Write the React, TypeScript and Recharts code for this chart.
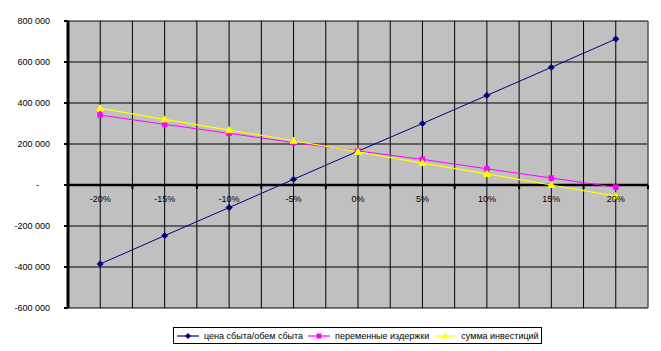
import React from 'react';
import {
  ComposedChart,
  Line,
  XAxis,
  YAxis,
  CartesianGrid,
  ReferenceLine,
  ReferenceDot,
  Legend,
  LabelList,
} from 'recharts';

const categories = ['-20%', '-15%', '-10%', '-5%', '0%', '5%', '10%', '15%', '20%'];
const changePct = [-20, -15, -10, -5, 0, 5, 10, 15, 20];
const priceVolume = [-385000, -247000, -110000, 28000, 165000, 300000, 437000, 574000, 712000];
const variableCosts = [341000, 296000, 252000, 207000, 166000, 125000, 79000, 34000, -11000];
const investment = [374000, 320000, 268000, 216000, 162000, 107000, 54000, 0, -54000];
const yTicks = [-600000, -400000, -200000, 0, 200000, 400000, 600000, 800000];
const xGridTicks = [-22.5, -20, -17.5, -15, -12.5, -10, -7.5, -5, -2.5, 0, 2.5, 5, 7.5, 10, 12.5, 15, 17.5, 20, 22.5];
const categoryBoundaries = [-22.5, -17.5, -12.5, -7.5, -2.5, 2.5, 7.5, 12.5, 17.5, 22.5];
const seriesNames = ['цена сбыта/обем сбыта', 'переменные издержки', 'сумма инвестиций'];

const data = changePct.map((x, i) => ({
  x,
  label: categories[i],
  price: priceVolume[i],
  costs: variableCosts[i],
  invest: investment[i],
  base: 0,
}));

const FONT = "Arial, 'Liberation Sans', sans-serif";

const fmt = (v: number) => {
  if (v === 0) return '-';
  const s = Math.abs(v).toString().replace(/\B(?=(\d{3})+(?!\d))/g, ' ');
  return (v < 0 ? '-' : '') + s;
};

const YTick = (props: any) => {
  const { x, y, payload } = props;
  const v = payload.value;
  return (
    <text
      x={v === 0 ? x - 11 : x}
      y={y}
      dy="0.35em"
      textAnchor="end"
      fontSize={9}
      fontFamily={FONT}
      fill="#000"
    >
      {fmt(v)}
    </text>
  );
};

const Diamond = (props: any) => {
  const { cx, cy } = props;
  if (cx == null || cy == null) return null;
  const r = 3;
  return (
    <polygon
      points={`${cx},${cy - r} ${cx + r},${cy} ${cx},${cy + r} ${cx - r},${cy}`}
      fill="#000080"
      stroke="#000080"
    />
  );
};

const Square = (props: any) => {
  const { cx, cy } = props;
  if (cx == null || cy == null) return null;
  return <rect x={cx - 2.5} y={cy - 2.5} width={5} height={5} fill="#FF00FF" stroke="#FF00FF" strokeWidth={0.5} />;
};

const Triangle = (props: any) => {
  const { cx, cy } = props;
  if (cx == null || cy == null) return null;
  return (
    <polygon
      points={`${cx},${cy - 3.5} ${cx + 3.5},${cy + 2.5} ${cx - 3.5},${cy + 2.5}`}
      fill="#FFFF00"
      stroke="#FFFF00"
    />
  );
};

const AxisTickMark = (props: any) => {
  const { cx, cy } = props;
  if (cx == null || cy == null) return null;
  return <line x1={cx} y1={cy} x2={cx} y2={cy + 4} stroke="#000" strokeWidth={2} />;
};

const legendItems = [
  { name: seriesNames[0], color: '#000080', marker: 'diamond' },
  { name: seriesNames[1], color: '#FF00FF', marker: 'square' },
  { name: seriesNames[2], color: '#FFFF00', marker: 'triangle' },
];

const LegendIcon = ({ color, marker }: { color: string; marker: string }) => (
  <svg width={22} height={10} style={{ display: 'block' }}>
    <line x1={0} y1={5} x2={22} y2={5} stroke={color} strokeWidth={1.2} />
    {marker === 'diamond' && <polygon points="11,2 14,5 11,8 8,5" fill={color} />}
    {marker === 'square' && <rect x={8.5} y={2.5} width={5} height={5} fill={color} />}
    {marker === 'triangle' && <polygon points="11,1.5 14.5,7.5 7.5,7.5" fill={color} />}
  </svg>
);

const LegendContent = () => (
  <div
    style={{
      boxSizing: 'border-box',
      width: 369,
      height: 17,
      border: '1px solid #000',
      background: '#fff',
      display: 'flex',
      alignItems: 'center',
      paddingLeft: 3,
      fontFamily: FONT,
      fontSize: 9,
      color: '#000',
      whiteSpace: 'nowrap',
    }}
  >
    {legendItems.map((it, i) => (
      <div key={i} style={{ display: 'flex', alignItems: 'center', marginRight: i < 2 ? 5 : 0 }}>
        <LegendIcon color={it.color} marker={it.marker} />
        <span style={{ marginLeft: 5 }}>{it.name}</span>
      </div>
    ))}
  </div>
);

const CatLabel = (props: any) => {
  const { x, y, value } = props;
  return (
    <text x={x} y={y + 14} dy="0.35em" textAnchor="middle" fontSize={9} fontFamily={FONT} fill="#000">
      {value}
    </text>
  );
};

export default function App() {
  return (
    <div style={{ position: 'absolute', left: 0, top: 0, background: '#fff' }}>
      <ComposedChart
        width={661}
        height={351}
        data={data}
        margin={{ top: 21, right: 13, bottom: 43, left: 0 }}
      >
        <CartesianGrid
          stroke="#000"
          strokeWidth={1}
          fill="#C0C0C0"
          fillOpacity={1}
        />
        <XAxis
          dataKey="x"
          type="number"
          domain={[-22.5, 22.5]}
          ticks={xGridTicks}
          interval={0}
          hide
        />
        <YAxis
          width={68}
          domain={[-600000, 800000]}
          ticks={yTicks}
          interval={0}
          tick={<YTick />}
          tickSize={4}
          tickMargin={14}
          tickLine={{ stroke: '#000', strokeWidth: 2 }}
          axisLine={{ stroke: '#000', strokeWidth: 3 }}
        />
        <ReferenceLine x={22.5} stroke="#808080" strokeWidth={1} />
        <ReferenceLine y={0} stroke="#000" strokeWidth={2.5} />
        {categoryBoundaries.map((b) => (
          <ReferenceDot key={b} x={b} y={0} r={0} shape={<AxisTickMark />} />
        ))}
        <Line
          dataKey="base"
          stroke="none"
          dot={false}
          activeDot={false}
          legendType="none"
          isAnimationActive={false}
        >
          <LabelList dataKey="label" content={<CatLabel />} />
        </Line>
        <Line
          name={seriesNames[0]}
          dataKey="price"
          type="linear"
          stroke="#000080"
          strokeWidth={1}
          dot={<Diamond />}
          activeDot={false}
          isAnimationActive={false}
        />
        <Line
          name={seriesNames[1]}
          dataKey="costs"
          type="linear"
          stroke="#FF00FF"
          strokeWidth={1}
          dot={<Square />}
          activeDot={false}
          isAnimationActive={false}
        />
        <Line
          name={seriesNames[2]}
          dataKey="invest"
          type="linear"
          stroke="#FFFF00"
          strokeWidth={1.2}
          dot={<Triangle />}
          activeDot={false}
          isAnimationActive={false}
        />
        <Legend
          layout="horizontal"
          verticalAlign="middle"
          align="center"
          content={<LegendContent />}
          wrapperStyle={{ position: 'absolute', top: 327, left: 173, width: 369, height: 17 }}
        />
      </ComposedChart>
    </div>
  );
}
